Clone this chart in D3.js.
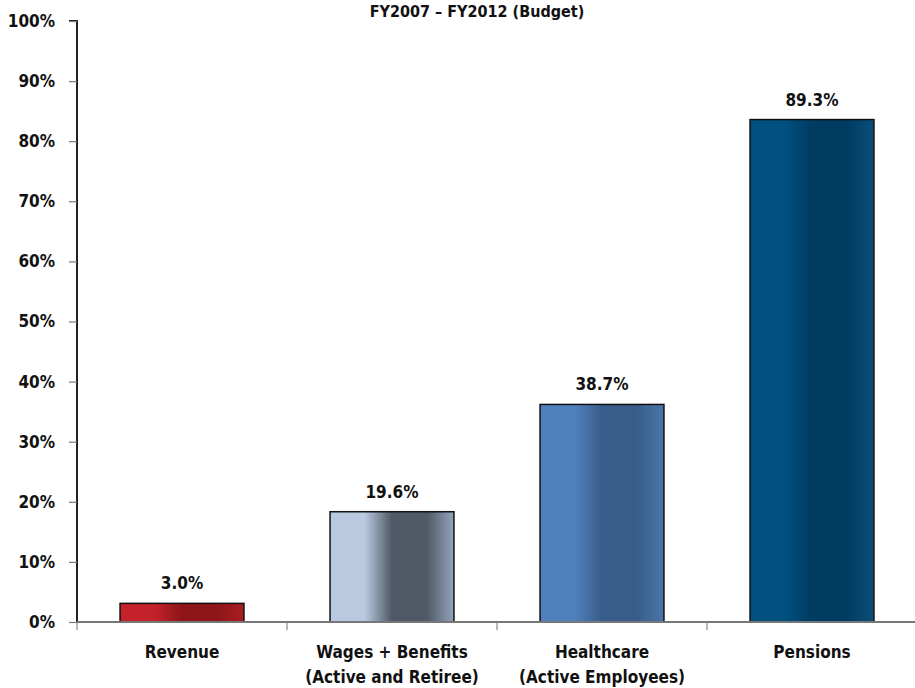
<!DOCTYPE html>
<html>
<head>
<meta charset="utf-8">
<script src="https://cdn.jsdelivr.net/npm/d3@7"></script>
<style>
  html, body { margin: 0; padding: 0; background: #fff; }
  svg { display: block; font-family: "Liberation Sans Narrow", "DejaVu Sans Condensed", "Roboto", sans-serif; font-weight: bold; }
</style>
</head>
<body>
<svg id="chart" width="915" height="688"></svg>
<script>
// ---- data ----
const categories = ["Revenue", "Wages + Benefits\n(Active and Retiree)", "Healthcare\n(Active Employees)", "Pensions"];
const barValues = [3.1, 18.35, 36.2, 83.6];           // drawn bar heights (%)
const barLabels = ["3.0%", "19.6%", "38.7%", "89.3%"]; // printed labels
const yTicks = [0, 10, 20, 30, 40, 50, 60, 70, 80, 90, 100];
const title = "FY2007 \u2013 FY2012 (Budget)";
const barColors = [
  ["#c3222b", "#8e1519", "#aa1d23"],
  ["#b8c9e0", "#4f5a66", "#93a3ba"],
  ["#4f81bd", "#385d8a", "#4a76ab"],
  ["#00507f", "#003b61", "#0b4f7c"]
];

const svg = d3.select("#chart");
const x0 = 77, x1 = 917, yTop = 21, yBot = 622;

const x = d3.scaleBand().domain(d3.range(categories.length)).range([x0, x1])
  .paddingInner(0.41).paddingOuter(0.205);
const y = d3.scaleLinear().domain([0, 100]).range([yBot, yTop]);

// gradients
const defs = svg.append("defs");
barColors.forEach((c, i) => {
  const g = defs.append("linearGradient").attr("id", "g" + i)
    .attr("x1", "0%").attr("x2", "100%").attr("y1", "0%").attr("y2", "0%");
  g.append("stop").attr("offset", "0%").attr("stop-color", c[0]);
  g.append("stop").attr("offset", "28%").attr("stop-color", c[0]);
  g.append("stop").attr("offset", "50%").attr("stop-color", c[1]);
  g.append("stop").attr("offset", "78%").attr("stop-color", c[1]);
  g.append("stop").attr("offset", "100%").attr("stop-color", c[2]);
});

// title
svg.append("text").attr("x", 477).attr("y", 17).attr("text-anchor", "middle")
  .attr("font-size", 16).attr("fill", "#111").text(title);

// y axis
const yAxis = d3.axisLeft(y).tickValues(yTicks).tickFormat(d => d + "%").tickSize(8).tickPadding(14);
const ya = svg.append("g").attr("transform", `translate(${x0},0)`).call(yAxis);
ya.select(".domain").attr("stroke", "#222").attr("stroke-width", 2).attr("d", `M-8,${yTop}H0V${yBot}`);
ya.selectAll(".tick line").attr("stroke", "#777").attr("stroke-width", 1.2);
ya.selectAll(".tick text").attr("font-size", 17).attr("fill", "#111")
  .attr("font-family", "Liberation Sans Narrow, DejaVu Sans Condensed, sans-serif").attr("font-weight", "bold");

// bars
svg.selectAll("rect.bar").data(barValues).join("rect").attr("class", "bar")
  .attr("x", (d, i) => x(i)).attr("width", x.bandwidth())
  .attr("y", d => y(d)).attr("height", d => y(0) - y(d))
  .attr("fill", (d, i) => `url(#g${i})`)
  .attr("stroke", "#111").attr("stroke-width", 1.5);

// x axis
const xa = svg.append("g").attr("transform", `translate(0,${yBot})`);
xa.append("line").attr("x1", x0).attr("x2", x1).attr("stroke", "#777").attr("stroke-width", 2);
const bandStep = x.step();
d3.range(categories.length + 1).forEach(k => {
  const px = x0 + k * bandStep;
  xa.append("line").attr("x1", px).attr("x2", px).attr("y1", 0).attr("y2", 8).attr("stroke", "#888").attr("stroke-width", 1.2);
});

// category labels
categories.forEach((c, i) => {
  const t = svg.append("text").attr("x", x(i) + x.bandwidth() / 2).attr("y", 658)
    .attr("text-anchor", "middle").attr("font-size", 17).attr("fill", "#111");
  c.split("\n").forEach((line, j) => {
    t.append("tspan").attr("x", x(i) + x.bandwidth() / 2).attr("dy", j === 0 ? 0 : 25).text(line);
  });
});

// value labels
svg.selectAll("text.val").data(barValues).join("text").attr("class", "val")
  .attr("x", (d, i) => x(i) + x.bandwidth() / 2).attr("y", d => y(d) - 14)
  .attr("text-anchor", "middle").attr("font-size", 17).attr("fill", "#111")
  .text((d, i) => barLabels[i]);
</script>
</body>
</html>
